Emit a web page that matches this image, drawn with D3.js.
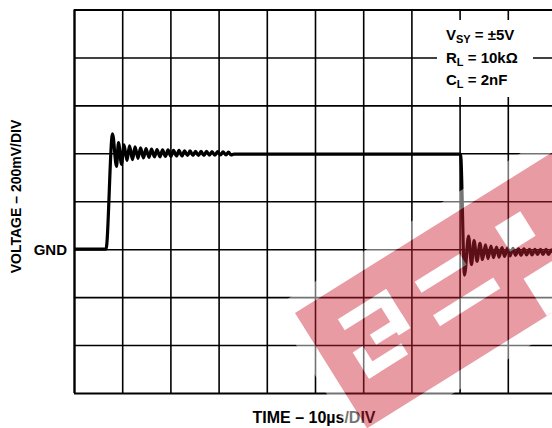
<!DOCTYPE html>
<html><head><meta charset="utf-8">
<script src="https://cdn.jsdelivr.net/npm/d3@7"></script>
<style>
html,body{margin:0;padding:0;background:#fff;}
svg{display:block;}
text{font-family:"Liberation Sans",Arial,Helvetica,sans-serif;font-weight:bold;fill:#000;}
</style></head>
<body>
<script>
// ---- data ----
const timeTicks = [0,10,20,30,40,50,60,70,80,90,100];            // µs
const voltTicks = [-600,-400,-200,0,200,400,600,800,1000];        // mV
const traceTime = [0, 6.64, 7.99, 8.82, 9.23, 9.85, 10.37, 11.00, 11.51, 12.14, 12.66, 13.28, 13.80, 14.42, 14.94, 15.56, 16.08, 16.70, 17.22, 17.84, 18.36, 18.98, 19.50, 20.12, 20.64, 21.27, 21.78, 22.41, 22.93, 23.55, 24.07, 24.69, 25.21, 25.83, 26.35, 26.97, 27.49, 28.11, 28.63, 29.25, 29.77, 30.39, 30.91, 31.54, 32.05, 32.57, 33.20, 80.19, 81.02, 81.85, 82.47, 83.00, 83.61, 84.23, 84.75, 85.37, 85.89, 86.51, 87.03, 87.66, 88.17, 88.80, 89.32, 89.94, 90.46, 91.08, 91.60, 92.22, 92.74, 93.36, 93.88, 94.50, 95.02, 95.64, 96.16, 96.78, 97.30, 97.93, 98.44, 99.07, 99.59];
const traceMv = [0, 0, 481, 345, 445, 354, 435, 370, 431, 374, 427, 379, 423, 381, 420, 383, 418, 385, 416, 385, 414, 387, 414, 387, 412, 389, 412, 389, 410, 391, 410, 391, 408, 391, 408, 391, 408, 392, 407, 392, 407, 393, 406, 393, 405, 393, 397, 397, -108, 55, -64, 36, -51, 24, -43, 18, -39, 13, -35, 9, -33, 7, -30, 5, -28, 3, -26, 1, -26, 1, -24, -1, -24, -1, -22, -1, -22, -1, -22, -3, -22];
const gndLabel = "GND";
const xTitle = "TIME – 10µs/DIV";
const yTitle = "VOLTAGE – 200mV/DIV";
const noteLines = [["V","SY"," = ±5V"],["R","L"," = 10kΩ"],["C","L"," = 2nF"]];

// ---- layout ----
const W = 552, H = 428;
const L = 74, T = 9.5, B = 393, R = 556;
const svg = d3.select("body").append("svg").attr("width", W).attr("height", H);

const x = d3.scaleLinear().domain([0,100]).range([L, R]);
const y = d3.scaleLinear().domain([-600,1000]).range([B, T]);

// grid via axes
const gx = svg.append("g").attr("transform", `translate(0,${B})`)
  .call(d3.axisBottom(x).tickValues(timeTicks).tickSize(-(B - T)).tickFormat(""));
const gy = svg.append("g").attr("transform", `translate(${L},0)`)
  .call(d3.axisLeft(y).tickValues(voltTicks).tickSize(-(R - L)).tickFormat(""));
[gx, gy].forEach(g => {
  g.select(".domain").remove();
  g.selectAll(".tick line").attr("stroke", "#000").attr("stroke-width", 1.6);
});
// borders
gx.selectAll(".tick").filter(d => d === 0).select("line").attr("stroke-width", 2.4);
gy.selectAll(".tick").filter(d => d === -600 || d === 1000).select("line").attr("stroke-width", 2.2);

// annotation box (hides grid behind)
svg.append("rect").attr("x", 437).attr("y", 20).attr("width", 96).attr("height", 77).attr("fill", "#fff");
const noteY = [39.5, 62.5, 84.5];
noteLines.forEach((ln, i) => {
  const t = svg.append("text").attr("x", 446).attr("y", noteY[i]).attr("font-size", 15);
  t.append("tspan").text(ln[0]);
  t.append("tspan").attr("font-size", 11).attr("dy", 3.5).text(ln[1]);
  t.append("tspan").attr("dy", -3.5).text(ln[2]);
});

// trace
const pts = traceTime.map((t, i) => [t, traceMv[i]]);
svg.append("path").datum(pts)
  .attr("fill", "none").attr("stroke", "#000").attr("stroke-width", 3.2)
  .attr("stroke-linejoin", "round")
  .attr("d", d3.line().x(d => x(d[0])).y(d => y(d[1])).curve(d3.curveMonotoneX));

// labels
svg.append("text").attr("x", 67).attr("y", y(0) + 6).attr("text-anchor", "end")
  .attr("font-size", 15).text(gndLabel);
svg.append("text").attr("x", 314).attr("y", 423).attr("text-anchor", "middle")
  .attr("font-size", 16).text(xTitle);
svg.append("text").attr("transform", "translate(20.5,196.5) rotate(-90)")
  .attr("text-anchor", "middle").attr("font-size", 14).text(yTitle);

// watermark overlay
const wm = svg.append("g").attr("opacity", 0.45).attr("transform", "translate(295,313) rotate(-32)");
wm.append("rect").attr("x", -16).attr("y", -16).attr("width", 440).attr("height", 168).attr("fill", "#fff");
wm.append("rect").attr("x", 0).attr("y", 0).attr("width", 420).attr("height", 136).attr("fill", "rgb(205,35,50)");
const letters = [
  [33, 28, 57, 13], [76, 28, 14, 46], [52, 58, 38, 12], [28, 82, 46, 13], [28, 64, 12, 31],
  [118, 37, 53, 13], [116, 75, 71, 13],
  [215, 33, 30, 29], [212, 92, 60, 44]
];
letters.forEach(r => wm.append("rect").attr("x", r[0]).attr("y", r[1]).attr("width", r[2]).attr("height", r[3]).attr("fill", "#fff"));
</script>
</body></html>
